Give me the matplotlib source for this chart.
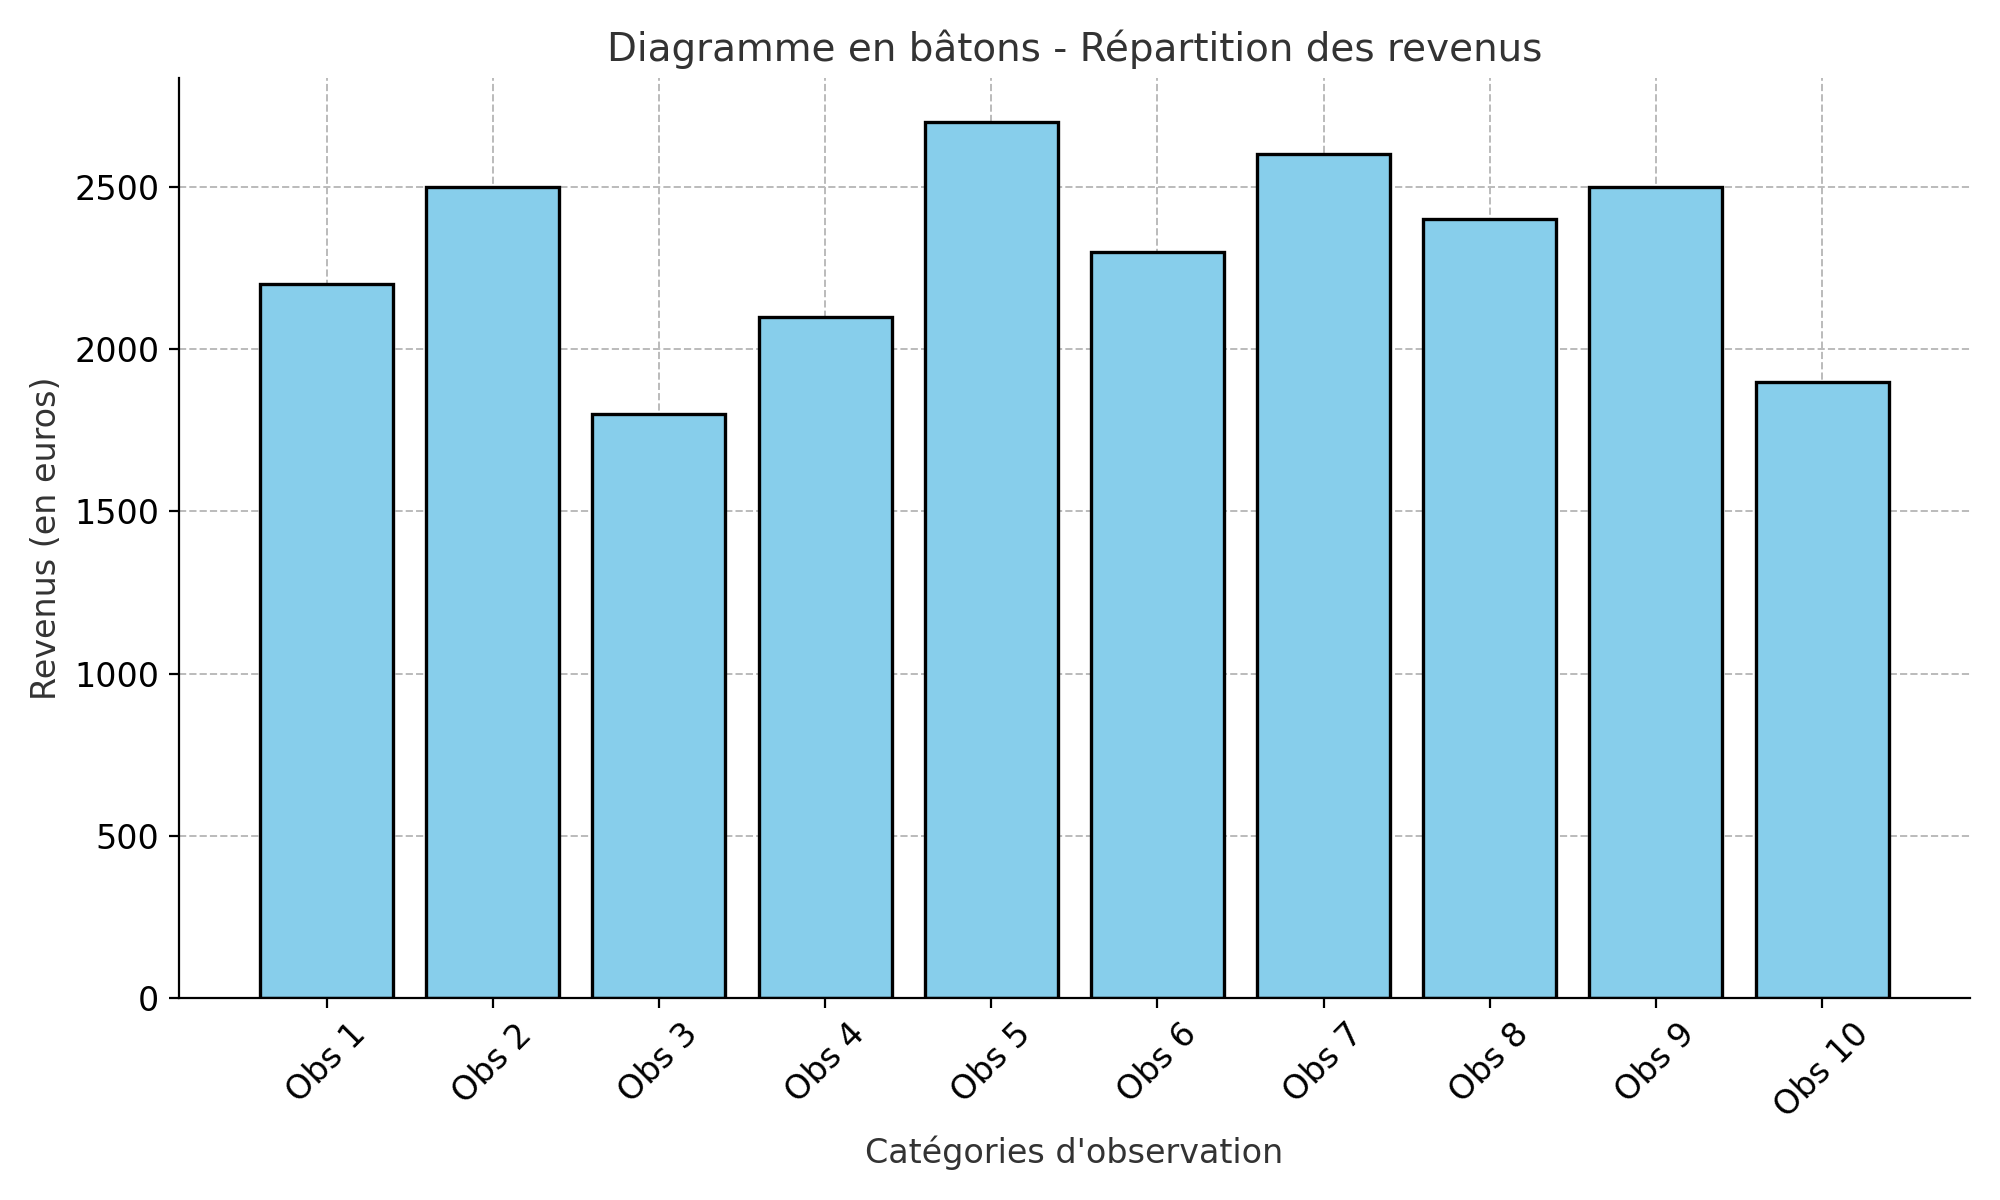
import matplotlib.pyplot as plt

categories = ['Obs 1', 'Obs 2', 'Obs 3', 'Obs 4', 'Obs 5', 'Obs 6', 'Obs 7', 'Obs 8', 'Obs 9', 'Obs 10']
revenus = [2200, 2500, 1800, 2100, 2700, 2300, 2600, 2400, 2500, 1900]

fig, ax = plt.subplots(figsize=(10, 6), dpi=200)
ax.bar(categories, revenus, color='skyblue', edgecolor='black', linewidth=1.2, zorder=2)
ax.set_title('Diagramme en bâtons - Répartition des revenus', fontsize=14, color='#333333')
ax.set_xlabel("Catégories d'observation", fontsize=12, color='#333333')
ax.set_ylabel('Revenus (en euros)', fontsize=12, color='#333333')
ax.tick_params(axis='x', rotation=45, labelsize=12)
ax.tick_params(axis='y', labelsize=12)
ax.grid(True, linestyle='--', color='#bbbbbb', linewidth=0.7, zorder=0)
ax.spines['top'].set_visible(False)
ax.spines['right'].set_visible(False)
plt.tight_layout()
plt.savefig('out.png')
